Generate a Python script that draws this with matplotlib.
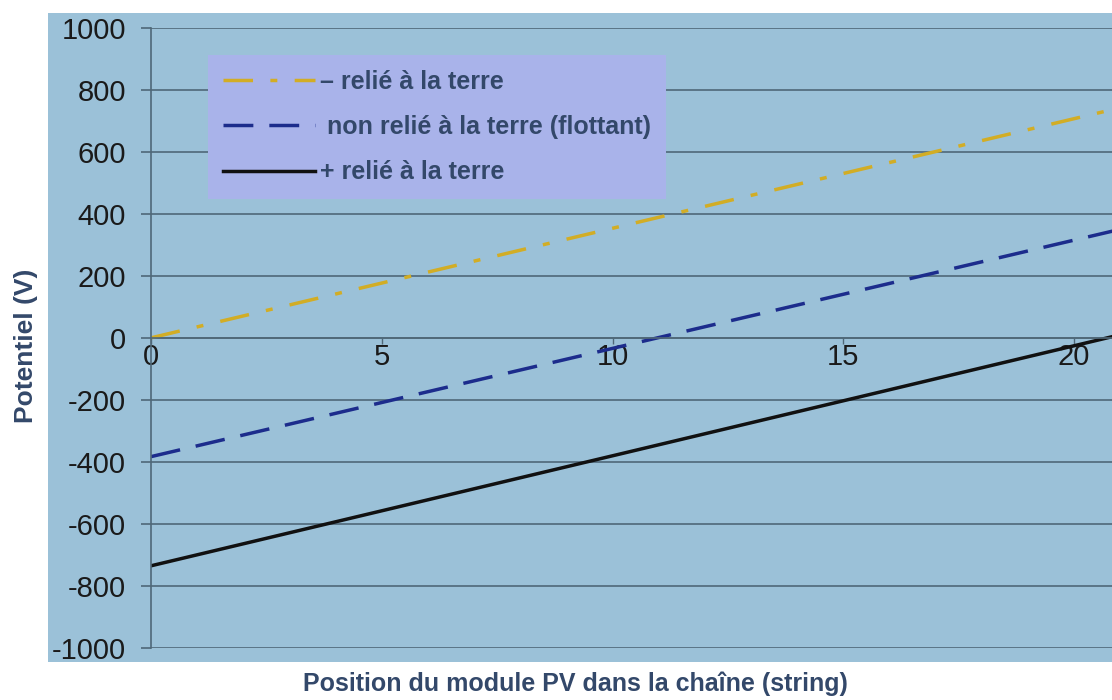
import matplotlib
matplotlib.use("Agg")
import matplotlib.pyplot as plt
from matplotlib.patches import Rectangle

# module position (line end points)
positions = [0, 21]
minus_grounded = [0, 742]        # - relié à la terre
floating = [-383, 350]           # non relié à la terre (flottant)
plus_grounded = [-735, 10]       # + relié à la terre

labels = ["\u2013 relié à la terre", " non relié à la terre (flottant)", "+ relié à la terre"]
y_ticks = [-1000, -800, -600, -400, -200, 0, 200, 400, 600, 800, 1000]
x_ticks = [0, 5, 10, 15, 20]

bg = "#9bc1d8"
grid_col = "#4f6878"
text_col = "#33486a"

plt.rcParams["font.family"] = ["Liberation Sans", "DejaVu Sans"]
plt.rcParams["axes.unicode_minus"] = False

fig = plt.figure(figsize=(11.12, 7.0), dpi=100)
fig.patches.append(Rectangle((48 / 1112, 1 - 662 / 700), 1 - 48 / 1112, (662 - 13) / 700,
                             transform=fig.transFigure, facecolor=bg, edgecolor="none", zorder=-5))

ax = fig.add_axes([151 / 1112, 1 - 648 / 700, 1 - 151 / 1112, (648 - 27.7) / 700])
ax.set_zorder(1)
ax.set_facecolor(bg)

ax.plot(positions, minus_grounded, color="#d2ad25", lw=2.5, dashes=(8.5, 5.0, 2.0, 5.0), label=labels[0])
ax.plot(positions, floating, color="#1c2c8c", lw=2.5, dashes=(8.6, 4.6), label=labels[1])
ax.plot(positions, plus_grounded, color="#111111", lw=2.5, label=labels[2])

ax.set_xlim(0, 20.82)
ax.set_ylim(-1000, 1000)
ax.set_yticks(y_ticks)
ax.set_xticks(x_ticks)
ax.yaxis.grid(True, color=grid_col, lw=1.2)
ax.set_axisbelow(True)

for s in ["top", "right"]:
    ax.spines[s].set_visible(False)
ax.spines["bottom"].set_position(("data", 0))
ax.spines["bottom"].set_color(grid_col)
ax.spines["bottom"].set_linewidth(1.2)
ax.spines["left"].set_color(grid_col)
ax.spines["left"].set_linewidth(1.2)

ax.tick_params(axis="y", length=7, width=1.2, color=grid_col, pad=11, labelsize=21, labelcolor="#1a1a1a")
ax.tick_params(axis="x", length=4, width=1, color=grid_col, pad=0, labelsize=21, labelcolor="#1a1a1a")

leg = ax.legend(loc="upper left", bbox_to_anchor=(0.059, 0.956), borderaxespad=0,
                frameon=True, fancybox=False, handlelength=3.7, handletextpad=0.2,
                labelspacing=0.85, borderpad=0.6, prop={"weight": "bold", "size": 18})
leg.get_frame().set_facecolor("#a9b3ea")
leg.get_frame().set_edgecolor("none")
leg.get_frame().set_alpha(1)
for t in leg.get_texts():
    t.set_color(text_col)

fig.text(26 / 1112, 1 - 346 / 700, "Potentiel (V)", rotation=90, ha="center", va="center",
         fontsize=19, fontweight="bold", color=text_col)
fig.text(575 / 1112, 1 - 684 / 700, "Position du module PV dans la chaîne (string)",
         ha="center", va="center", fontsize=18, fontweight="bold", color=text_col)

fig.savefig("out.png", dpi=100, facecolor="white")
